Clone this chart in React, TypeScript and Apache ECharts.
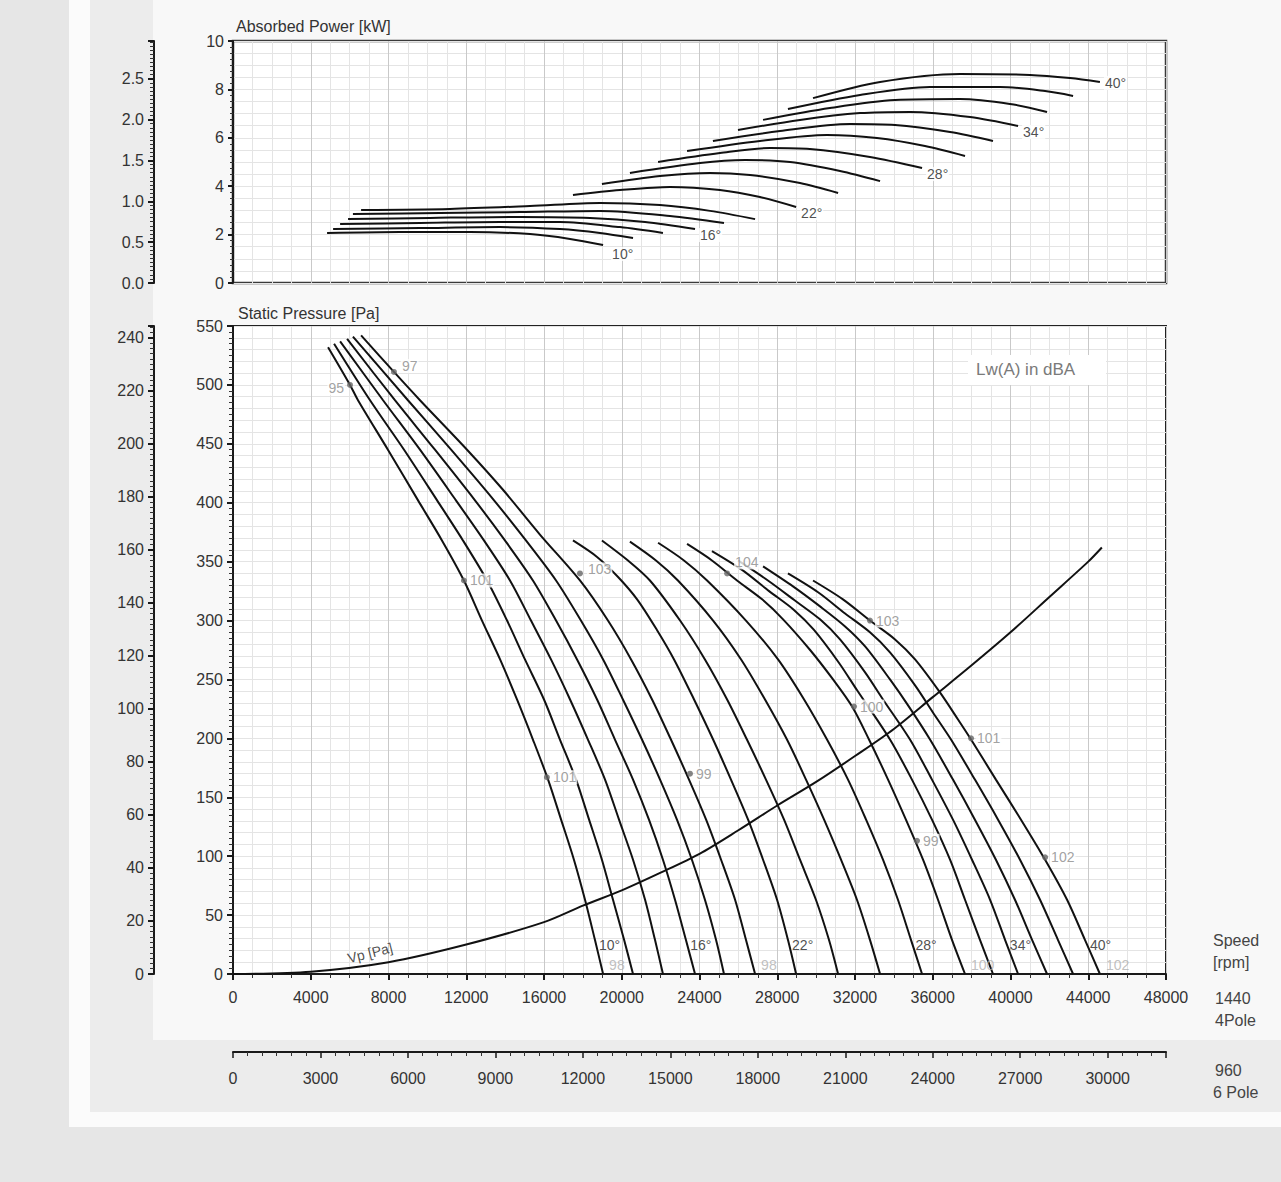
import React, { useEffect, useRef } from "react";
import * as echarts from "echarts";

type Pt = [number, number];

// ---------- axes ----------
const flowMax4Pole = 48000;
const flowStep4Pole = 4000;
const flowMax6Pole = 32000;
const flowStep6Pole = 3000;
const pressureMax = 550;
const pressureStep = 50;
const pressureMax6Pole = 244.44;
const pressureStep6Pole = 20;
const powerMax = 10;
const powerStep = 2;
const powerMax6Pole = 2.963;
const powerStep6Pole = 0.5;

// ---------- static pressure curves [flow m3/h, Pa] per blade angle ----------
const p10: Pt[] = [[4890,532],[6020,500],[6430,487],[7970,445],[9520,402],[10750,368],[11880,334],[12810,300],[13740,267],[14610,233],[15430,199],[16210,165],[16880,131],[17540,97],[18110,63],[18620,29],[19040,0]];
const p12: Pt[] = [[5200,535],[7050,487],[8800,445],[10500,402],[11830,368],[13070,334],[14100,300],[15020,267],[16000,233],[16820,199],[17650,165],[18320,131],[18980,97],[19550,63],[20120,29],[20580,0]];
const p14: Pt[] = [[5510,537],[7720,487],[9620,445],[11470,402],[12910,368],[14250,334],[15330,300],[16360,267],[17340,233],[18260,199],[19140,165],[19860,131],[20580,97],[21200,63],[21710,29],[22120,0]];
const p16: Pt[] = [[5870,539],[8330,487],[10390,445],[12450,402],[13990,368],[15430,334],[16620,300],[17700,267],[18730,233],[19650,199],[20580,165],[21400,131],[22120,97],[22740,63],[23300,29],[23770,0]];
const p18: Pt[] = [[6170,541],[9000,487],[11220,445],[13430,402],[15070,368],[16620,334],[17900,300],[19040,267],[20060,233],[21040,199],[21970,165],[22840,131],[23610,97],[24280,63],[24850,29],[25260,0]];
const p20: Pt[] = [[6590,542],[8280,511],[9620,487],[12040,445],[13890,411],[15790,373],[17850,334],[19290,300],[20480,267],[21560,233],[22530,199],[23460,165],[24340,131],[25110,97],[25830,63],[26390,29],[26860,0]];
const p22: Pt[] = [[17490,368],[18730,354],[19810,337],[20790,318],[21810,292],[22690,267],[23720,233],[24700,199],[25620,165],[26500,131],[27270,97],[27990,63],[28550,29],[28970,0]];
const p24: Pt[] = [[18980,368],[20320,351],[21450,334],[23000,300],[24280,267],[25420,233],[26440,199],[27420,165],[28350,131],[29170,97],[29990,63],[30660,29],[31130,0]];
const p26: Pt[] = [[20420,367],[21760,351],[22890,334],[24700,300],[26140,267],[27370,233],[28500,199],[29480,165],[30410,131],[31280,97],[32100,63],[32770,29],[33290,0]];
const p28: Pt[] = [[21870,366],[23200,351],[24390,334],[26390,300],[28040,267],[29380,233],[30560,199],[31640,165],[32570,131],[33440,97],[34210,63],[34880,29],[35450,0]];
const p30: Pt[] = [[23360,365],[24640,351],[25930,334],[27220,318],[28300,301],[29690,275],[30870,250],[31850,227],[32720,199],[33700,165],[34620,131],[35500,97],[36270,63],[36990,29],[37660,0]];
const p32: Pt[] = [[24640,359],[26190,343],[27580,325],[28860,309],[29890,292],[31180,264],[32100,241],[33800,199],[34930,165],[35960,131],[36890,97],[37660,63],[38430,29],[39100,0]];
const p34: Pt[] = [[25980,351],[27520,334],[28910,317],[30200,301],[31230,284],[32520,256],[33440,233],[34830,199],[35960,165],[37040,131],[38020,97],[38950,63],[39720,29],[40390,0]];
const p36: Pt[] = [[27270,346],[28810,329],[30200,312],[31490,295],[32520,278],[33800,250],[34730,228],[35860,199],[37040,165],[38170,131],[39250,97],[40230,63],[41110,29],[41880,0]];
const p38: Pt[] = [[28550,340],[30100,324],[31490,306],[32770,290],[33800,273],[35090,245],[36010,222],[36940,199],[38170,165],[39360,131],[40490,97],[41520,63],[42440,29],[43220,0]];
const p40: Pt[] = [[29840,334],[31380,318],[32770,300],[34060,284],[35090,267],[36370,239],[37300,216],[37970,199],[39250,165],[40540,131],[41780,97],[42910,63],[43830,29],[44600,0]];

// ---------- absorbed power curves [flow m3/h, kW] ----------
const w10: Pt[] = [[4840,2.07],[8590,2.11],[12190,2.11],[15280,2.02],[17340,1.82],[19040,1.57]];
const w12: Pt[] = [[5150,2.23],[9620,2.27],[13740,2.31],[16820,2.23],[18880,2.07],[20580,1.86]];
const w14: Pt[] = [[5510,2.44],[9620,2.48],[13740,2.52],[16820,2.52],[19910,2.31],[22120,2.07]];
const w16: Pt[] = [[5920,2.64],[10140,2.69],[14770,2.73],[18370,2.69],[21200,2.52],[23770,2.23]];
const w18: Pt[] = [[6170,2.85],[10650,2.89],[14770,2.93],[18880,2.98],[22480,2.77],[25260,2.48]];
const w20: Pt[] = [[6590,3.02],[11160,3.06],[15280,3.18],[18880,3.31],[21970,3.22],[24540,2.98],[26860,2.64]];
const w22: Pt[] = [[17490,3.64],[19910,3.84],[22480,3.97],[25050,3.84],[27110,3.55],[28970,3.14]];
const w24: Pt[] = [[18980,4.09],[21970,4.42],[24540,4.55],[26600,4.46],[29170,4.13],[31130,3.72]];
const w26: Pt[] = [[20420,4.55],[24030,4.96],[26340,5.08],[28660,5.0],[31230,4.63],[33290,4.21]];
const w28: Pt[] = [[21870,5.0],[25050,5.37],[27630,5.58],[29680,5.54],[32770,5.21],[35450,4.75]];
const w30: Pt[] = [[23360,5.45],[27110,5.87],[30560,6.12],[33130,5.99],[35600,5.66],[37660,5.25]];
const w32: Pt[] = [[24690,5.87],[28140,6.28],[31740,6.57],[34060,6.53],[36890,6.24],[39100,5.87]];
const w34: Pt[] = [[25980,6.32],[29170,6.74],[32260,7.02],[34830,7.07],[37920,6.86],[40390,6.49]];
const w36: Pt[] = [[27270,6.74],[30710,7.23],[34060,7.56],[37400,7.6],[39970,7.4],[41880,7.07]];
const w38: Pt[] = [[28550,7.19],[32260,7.77],[35860,8.1],[39460,8.1],[41780,7.93],[43220,7.73]];
const w40: Pt[] = [[29840,7.64],[33290,8.31],[37400,8.64],[41000,8.6],[43060,8.47],[44600,8.31]];

// ---------- dynamic pressure ----------
const vpCurve: Pt[] = [[0,0],[4000,2],[8000,10],[12000,25],[16000,44],[18000,58],[20000,71],[22000,86],[24000,102],[26000,122],[28000,143],[30000,163],[32000,185],[34000,208],[36000,235],[38000,262],[40000,290],[42000,320],[44000,350],[44700,362]];

// ---------- sound power points Lw(A) [flow, Pa, dBA] ----------
const lwFlow = [6020, 8280, 11880, 17850, 25420, 32770, 31950, 37970, 16150, 23510, 35190, 41780];
const lwPressure = [500, 511, 334, 340, 340, 300, 227, 200, 167, 170, 113, 99];
const lwValue = ["95", "97", "101", "103", "104", "103", "100", "101", "101", "99", "99", "102"];
const lwEndFlow = [19040, 26860, 37660, 44600];
const lwEndValue = ["98", "98", "100", "102"];

const bladeAngles = [10, 12, 14, 16, 18, 20, 22, 24, 26, 28, 30, 32, 34, 36, 38, 40];
const labeledAngles = [10, 16, 22, 28, 34, 40];
const pressureCurves = [p10, p12, p14, p16, p18, p20, p22, p24, p26, p28, p30, p32, p34, p36, p38, p40];
const powerCurves = [w10, w12, w14, w16, w18, w20, w22, w24, w26, w28, w30, w32, w34, w36, w38, w40];

const FONT = "'Liberation Sans', Arial, Helvetica, sans-serif";
const TXT = "#333";

function flowAtPressure(curve: Pt[], p: number): number {
  for (let i = 0; i < curve.length - 1; i++) {
    const a = curve[i];
    const b = curve[i + 1];
    if (a[1] >= p && b[1] <= p) {
      const t = (a[1] - p) / (a[1] - b[1]);
      return a[0] + t * (b[0] - a[0]);
    }
  }
  return curve[curve.length - 1][0];
}

function lineSeries(data: Pt[], xi: number, yi: number, name: string) {
  return {
    type: "line",
    name,
    data,
    xAxisIndex: xi,
    yAxisIndex: yi,
    smooth: 0.3,
    showSymbol: false,
    symbol: "none",
    silent: true,
    z: 3,
    lineStyle: { color: "#111", width: 2 },
  };
}

const hidden = {
  axisLine: { show: false },
  axisTick: { show: false },
  axisLabel: { show: false },
};

const plain = (v: number) => String(v);

function buildOption() {
  const series: any[] = [];
  pressureCurves.forEach((c, i) => series.push(lineSeries(c, 1, 3, "p" + bladeAngles[i])));
  powerCurves.forEach((c, i) => series.push(lineSeries(c, 0, 0, "w" + bladeAngles[i])));
  series.push(lineSeries(vpCurve, 1, 3, "Vp"));

  // Lw(A) points
  series.push({
    type: "scatter",
    xAxisIndex: 1,
    yAxisIndex: 3,
    symbol: "circle",
    symbolSize: 6,
    silent: true,
    z: 6,
    itemStyle: { color: "#666" },
    data: lwFlow.map((q, i) => ({
      value: [q, lwPressure[i]],
      label: {
        show: true,
        formatter: lwValue[i],
        position: i === 0 ? "left" : "right",
        distance: 2,
        offset: i === 0 ? [0, 3] : i === 4 ? [2, -11] : i === 3 ? [2, -4] : i === 1 ? [2, -6] : [0, 0],
        color: "#8a8a8a",
        fontSize: 14,
        fontFamily: FONT,
        backgroundColor: "#fff",
        padding: [0, 1],
      },
    })),
  });
  series.push({
    type: "scatter",
    xAxisIndex: 1,
    yAxisIndex: 3,
    symbolSize: 0,
    silent: true,
    z: 6,
    data: lwEndFlow.map((q, i) => ({
      value: [q, 0],
      label: {
        show: true,
        formatter: lwEndValue[i],
        position: "right",
        distance: 6,
        offset: [0, -9],
        color: "#b0b0b0",
        fontSize: 14,
        fontFamily: FONT,
      },
    })),
  });

  // blade angle labels, main chart
  series.push({
    type: "scatter",
    xAxisIndex: 1,
    yAxisIndex: 3,
    symbolSize: 0,
    silent: true,
    z: 6,
    data: labeledAngles.map((a) => {
      const c = pressureCurves[bladeAngles.indexOf(a)];
      return {
        value: [flowAtPressure(c, 25), 25],
        label: { show: true, formatter: a + "°", position: "right", distance: 3, color: "#222", fontSize: 14, fontFamily: FONT },
      };
    }),
  });
  // blade angle labels, power chart
  series.push({
    type: "scatter",
    xAxisIndex: 0,
    yAxisIndex: 0,
    symbolSize: 0,
    silent: true,
    z: 6,
    data: labeledAngles.map((a, k) => {
      const c = powerCurves[bladeAngles.indexOf(a)];
      const end = c[c.length - 1];
      return {
        value: [end[0], end[1]],
        label: {
          show: true,
          formatter: a + "°",
          position: "right",
          distance: k === 0 ? 8 : 4,
          offset: k === 0 ? [0, 9] : k === 5 ? [0, 1] : [0, 6],
          color: "#222",
          fontSize: 14,
          fontFamily: FONT,
          backgroundColor: "#fff",
          padding: [0, 1],
        },
      };
    }),
  });
  // Vp label
  series.push({
    type: "scatter",
    xAxisIndex: 1,
    yAxisIndex: 3,
    symbolSize: 0,
    silent: true,
    z: 6,
    data: [
      {
        value: [7050, 18],
        label: { show: true, formatter: "Vp [Pa]", position: "inside", rotate: 14, color: "#222", fontSize: 14, fontFamily: FONT },
      },
    ],
  });

  const labelStyle = { fontFamily: FONT, fontSize: 16, color: TXT };
  const blackLine = { show: true, onZero: false, lineStyle: { color: "#1a1a1a", width: 2 } };

  return {
    animation: false,
    backgroundColor: "#e6e6e6",
    grid: [
      { left: 233, top: 41, width: 933, height: 242, show: true, backgroundColor: "#fff", borderColor: "#3a3a3a", borderWidth: 2.5 },
      { left: 233, top: 326, width: 933, height: 648, show: true, backgroundColor: "#fff", borderColor: "#222", borderWidth: 2 },
    ],
    xAxis: [
      {
        gridIndex: 0, type: "value", min: 0, max: flowMax4Pole, interval: flowStep4Pole,
        ...hidden,
        minorTick: { show: false, splitNumber: 4 },
        splitLine: { show: true, lineStyle: { color: "#c9c9c9", width: 1 } },
        minorSplitLine: { show: true, lineStyle: { color: "#e4e4e4", width: 1 } },
      },
      {
        gridIndex: 1, type: "value", min: 0, max: flowMax4Pole, interval: flowStep4Pole,
        axisLine: blackLine,
        axisTick: { show: true, length: 6, lineStyle: { color: "#1a1a1a", width: 2 } },
        minorTick: { show: true, splitNumber: 4, length: 4, lineStyle: { color: "#333", width: 1 } },
        axisLabel: { ...labelStyle, margin: 15, formatter: plain },
        splitLine: { show: true, lineStyle: { color: "#c9c9c9", width: 1 } },
        minorSplitLine: { show: true, lineStyle: { color: "#e4e4e4", width: 1 } },
      },
      {
        gridIndex: 1, type: "value", position: "bottom", offset: 78, min: 0, max: flowMax6Pole, interval: flowStep6Pole,
        axisLine: blackLine,
        axisTick: { show: true, length: 6, lineStyle: { color: "#1a1a1a", width: 1.5 } },
        minorTick: { show: true, splitNumber: 6, length: 4, lineStyle: { color: "#333", width: 1 } },
        axisLabel: { ...labelStyle, margin: 18, showMaxLabel: false, formatter: plain },
        splitLine: { show: false },
      },
    ],
    yAxis: [
      {
        gridIndex: 0, type: "value", min: 0, max: powerMax, interval: powerStep,
        axisLine: blackLine,
        axisTick: { show: true, length: 5, lineStyle: { color: "#1a1a1a", width: 2 } },
        minorTick: { show: true, splitNumber: 8, length: 3, lineStyle: { color: "#333" } },
        axisLabel: { ...labelStyle, margin: 9, formatter: plain },
        splitLine: { show: true, lineStyle: { color: "#c9c9c9" } },
      },
      {
        gridIndex: 0, type: "value", position: "left", offset: 79, min: 0, max: powerMax6Pole, interval: powerStep6Pole,
        axisLine: blackLine,
        axisTick: { show: true, length: 6, lineStyle: { color: "#1a1a1a", width: 2 } },
        minorTick: { show: true, splitNumber: 10, length: 4, lineStyle: { color: "#333" } },
        axisLabel: { ...labelStyle, margin: 10, showMaxLabel: false, formatter: (v: number) => v.toFixed(1) },
        splitLine: { show: false },
      },
      {
        gridIndex: 0, type: "value", min: 0, max: powerMax, interval: 0.5,
        ...hidden,
        splitLine: { show: true, lineStyle: { color: "#e4e4e4" } },
        z: 0,
      },
      {
        gridIndex: 1, type: "value", min: 0, max: pressureMax, interval: pressureStep,
        axisLine: blackLine,
        axisTick: { show: true, length: 6, lineStyle: { color: "#1a1a1a", width: 2 } },
        minorTick: { show: true, splitNumber: 10, length: 4, lineStyle: { color: "#333" } },
        axisLabel: { ...labelStyle, margin: 10, formatter: plain },
        splitLine: { show: true, lineStyle: { color: "#c9c9c9" } },
      },
      {
        gridIndex: 1, type: "value", position: "left", offset: 79, min: 0, max: pressureMax6Pole, interval: pressureStep6Pole,
        axisLine: blackLine,
        axisTick: { show: true, length: 6, lineStyle: { color: "#1a1a1a", width: 2 } },
        minorTick: { show: true, splitNumber: 10, length: 4, lineStyle: { color: "#333" } },
        axisLabel: { ...labelStyle, margin: 10, showMaxLabel: false, formatter: plain },
        splitLine: { show: false },
      },
      {
        gridIndex: 1, type: "value", min: 0, max: pressureMax, interval: 10,
        ...hidden,
        splitLine: { show: true, lineStyle: { color: "#e4e4e4" } },
        z: 0,
      },
    ],
    graphic: [
      { type: "rect", z: -10, shape: { x: 69, y: 0, width: 1212, height: 1127 }, style: { fill: "#fbfbfb" } },
      { type: "rect", z: -9, shape: { x: 90, y: 0, width: 1191, height: 1112 }, style: { fill: "#ececec" } },
      { type: "rect", z: -8, shape: { x: 153, y: 0, width: 1128, height: 1040 }, style: { fill: "#f8f8f8" } },
      { type: "rect", z: 20, shape: { x: 968, y: 355, width: 138, height: 30 }, style: { fill: "#fff" } },
      { type: "text", z: 21, x: 976, y: 361, style: { text: "Lw(A) in dBA", fill: "#7a7a7a", font: `17px ${FONT}` } },
      { type: "text", z: 21, x: 236, y: 18, style: { text: "Absorbed Power [kW]", fill: TXT, font: `16px ${FONT}` } },
      { type: "text", z: 21, x: 238, y: 305, style: { text: "Static Pressure [Pa]", fill: TXT, font: `16px ${FONT}` } },
      { type: "text", z: 21, x: 1213, y: 932, style: { text: "Speed", fill: "#444", font: `16px ${FONT}` } },
      { type: "text", z: 21, x: 1213, y: 954, style: { text: "[rpm]", fill: "#444", font: `16px ${FONT}` } },
      { type: "text", z: 21, x: 1215, y: 990, style: { text: "1440", fill: "#444", font: `16px ${FONT}` } },
      { type: "text", z: 21, x: 1215, y: 1012, style: { text: "4Pole", fill: "#444", font: `16px ${FONT}` } },
      { type: "text", z: 21, x: 1215, y: 1062, style: { text: "960", fill: "#444", font: `16px ${FONT}` } },
      { type: "text", z: 21, x: 1213, y: 1084, style: { text: "6 Pole", fill: "#444", font: `16px ${FONT}` } },
    ],
    series,
  };
}

export default function App() {
  const ref = useRef<HTMLDivElement>(null);
  useEffect(() => {
    document.body.style.margin = "0";
    const chart = echarts.init(ref.current as HTMLDivElement, null, { renderer: "svg" });
    chart.setOption(buildOption() as any);
    return () => chart.dispose();
  }, []);
  return <div ref={ref} style={{ width: 1281, height: 1182 }} />;
}
